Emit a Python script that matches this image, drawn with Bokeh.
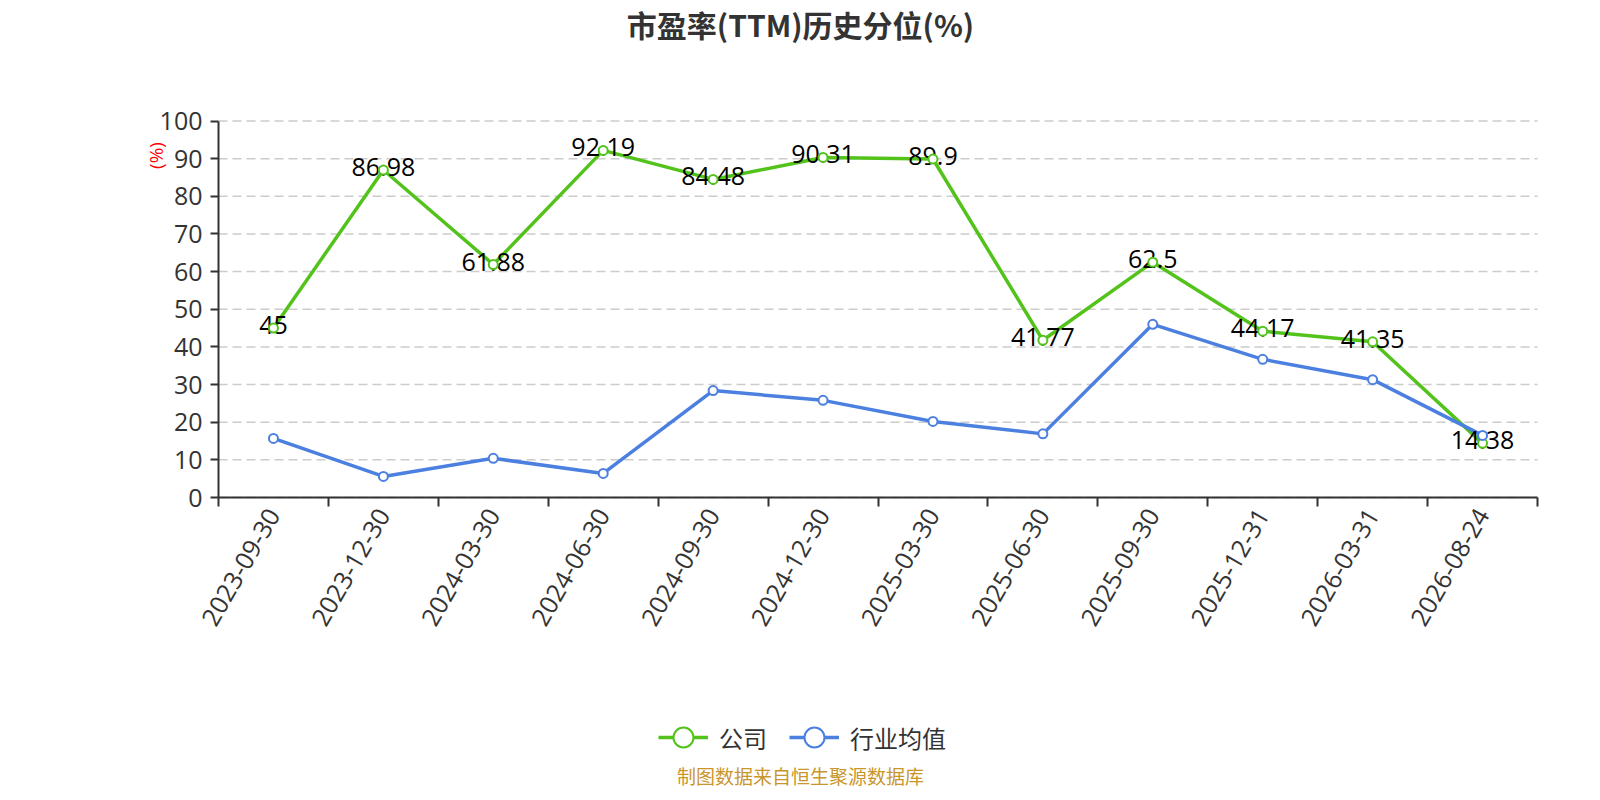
import math
import numpy as np
from bokeh.plotting import figure
from bokeh.models import (ColumnDataSource, FixedTicker, Range1d, Legend, LegendItem,
                          Label, CustomJSTickFormatter)
from bokeh.core.properties import value
from bokeh.embed import file_html
from bokeh.resources import INLINE

# ---------------- data ----------------
dates = ["2023-09-30", "2023-12-30", "2024-03-30", "2024-06-30", "2024-09-30", "2024-12-30",
         "2025-03-30", "2025-06-30", "2025-09-30", "2025-12-31", "2026-03-31", "2026-08-24"]
company = [45, 86.98, 61.88, 92.19, 84.48, 90.31, 89.9, 41.77, 62.5, 44.17, 41.35, 14.38]
industry = [15.7, 5.6, 10.4, 6.4, 28.4, 25.8, 20.2, 16.9, 46.0, 36.7, 31.3, 16.5]
y_ticks = [0, 10, 20, 30, 40, 50, 60, 70, 80, 90, 100]
series_names = ["公司", "行业均值"]
title_text = "市盈率(TTM)历史分位(%)"
unit_text = "(%)"
footer_text = "制图数据来自恒生聚源数据库"

# ---------------- layout / style ----------------
GREEN = "#53c31b"
BLUE = "#4c80e0"
AXIS = "#333333"
W, H = 1584, 792
PX_L, PX_R, PX_T, PX_B = 218, 1537, 120.5, 497   # plot area in canvas pixels
n = len(dates)
y_max = 100

sx = (PX_R - PX_L) / n
sy = (PX_B - PX_T) / y_max
x_start, x_end = -PX_L / sx, n + (W - PX_R) / sx
y_start, y_end = -(H - PX_B) / sy, y_max + PX_T / sy

def dx(px):
    return x_start + px / sx

def dy(py):
    return y_end - py / sy

xs = np.arange(n) + 0.5
src = ColumnDataSource(dict(x=xs, company=company, industry=industry,
                            lab=[f"{v:g}" for v in company]))

p = figure(width=W, height=H, x_range=Range1d(x_start, x_end), y_range=Range1d(y_start, y_end),
           output_backend="svg", toolbar_location=None, title=None, min_border=0)
p.outline_line_color = None
p.background_fill_color = "white"
p.border_fill_color = "white"
p.xgrid.visible = False
p.ygrid.visible = False

# horizontal dashed grid lines across the plot area
p.segment(x0=0, x1=n, y0=y_ticks, y1=y_ticks, line_color="#cccccc",
          line_dash="9 5", line_width=1.5, level="underlay")

# y axis
ya = p.yaxis[0]
ya.fixed_location = 0
ya.bounds = (0, y_max)
ya.ticker = FixedTicker(ticks=y_ticks)
ya.axis_line_color = AXIS
ya.axis_line_width = 2
ya.major_tick_line_color = AXIS
ya.major_tick_line_width = 2
ya.major_tick_out = 8
ya.major_tick_in = 0
ya.minor_tick_line_color = None
ya.major_label_text_font = "Open Sans"
ya.major_label_text_font_size = "25px"
ya.major_label_text_color = "#333333"
ya.major_label_standoff = 8

# x axis (ticks between categories, labels at category centres)
xa = p.xaxis[0]
xa.fixed_location = 0
xa.bounds = (0, n)
xa.ticker = FixedTicker(ticks=list(xs), minor_ticks=list(range(n + 1)))
xa.formatter = CustomJSTickFormatter(args=dict(labels=dates),
                                     code="return labels[Math.floor(tick)];")
xa.axis_line_color = AXIS
xa.axis_line_width = 2
xa.major_tick_line_color = None
xa.major_tick_out = 0
xa.major_tick_in = 0
xa.minor_tick_line_color = AXIS
xa.minor_tick_line_width = 2
xa.minor_tick_out = 9
xa.minor_tick_in = 0
xa.major_label_orientation = math.radians(60)
xa.major_label_text_font = "Open Sans"
xa.major_label_text_font_size = "25px"
xa.major_label_text_color = "#333333"
xa.major_label_standoff = 4

# series: lines, value labels, then markers on top
l1 = p.line("x", "company", source=src, line_color=GREEN, line_width=3.5)
l2 = p.line("x", "industry", source=src, line_color=BLUE, line_width=3.5)
p.text("x", "company", text="lab", source=src, text_font=value("Open Sans"),
       text_font_size="25px", text_align="center", text_baseline="middle",
       y_offset=-3, text_color="#000000")
s1 = p.scatter("x", "company", source=src, size=9, fill_color="white",
               line_color=GREEN, line_width=2)
s2 = p.scatter("x", "industry", source=src, size=9, fill_color="white",
               line_color=BLUE, line_width=2)

legend = Legend(items=[LegendItem(label=series_names[0], renderers=[l1, s1]),
                       LegendItem(label=series_names[1], renderers=[l2, s2])],
                orientation="horizontal", location=(658, H - 737 - 26),
                glyph_width=50, glyph_height=52, label_standoff=11, spacing=22,
                padding=0, margin=0,
                label_text_font="Noto Sans CJK SC", label_text_font_size="24px",
                label_text_color="#333333",
                border_line_color=None, background_fill_alpha=0)
p.add_layout(legend)

# title, unit and footer
p.add_layout(Label(x=dx(800), y=dy(23.5), text=title_text, text_align="center",
                   text_baseline="middle", text_font="Noto Sans CJK SC",
                   text_font_size="30px", text_font_style="bold", text_color="#333333"))
p.add_layout(Label(x=dx(155), y=dy(155), text=unit_text, angle=math.pi / 2,
                   text_align="center", text_baseline="middle", text_font="Open Sans",
                   text_font_size="19px", text_color="#ff0000"))
p.add_layout(Label(x=dx(800), y=dy(775), text=footer_text, text_align="center",
                   text_baseline="middle", text_font="Noto Sans CJK SC",
                   text_font_size="19px", text_color="#c9962c"))

open("out.html", "w").write(file_html(p, INLINE))
